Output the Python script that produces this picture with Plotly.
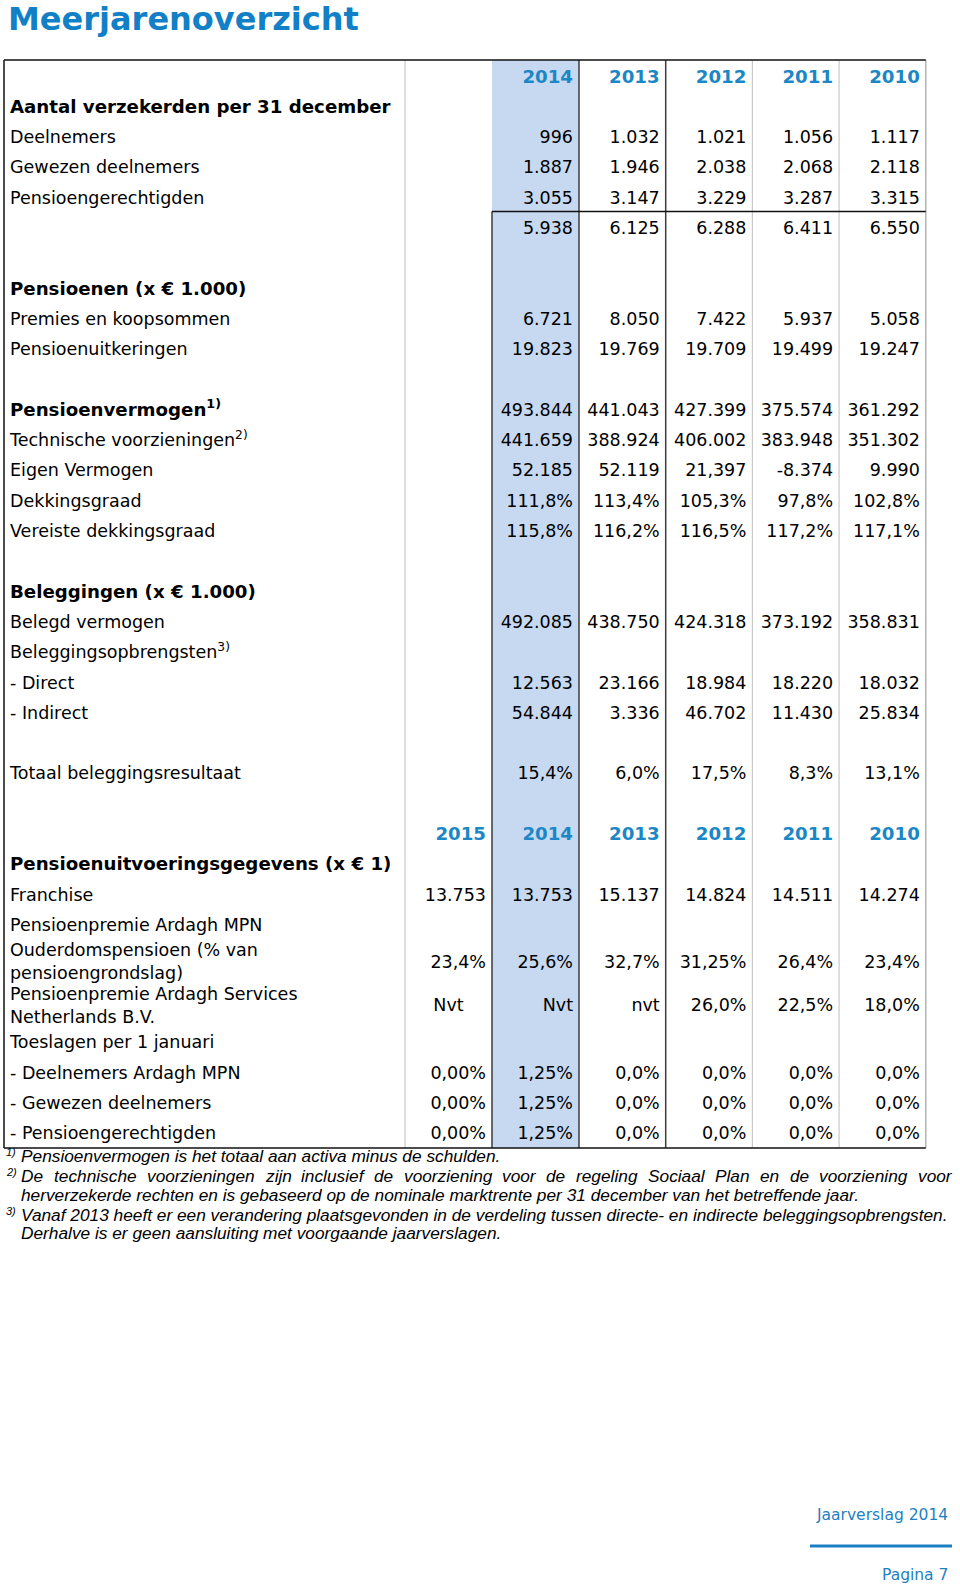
import plotly.graph_objects as go

# ---------------- data ----------------
years_a = ["2014", "2013", "2012", "2011", "2010"]
years_b = ["2015", "2014", "2013", "2012", "2011", "2010"]

labels_a = [
    "Aantal verzekerden per 31 december",
    "Deelnemers",
    "Gewezen deelnemers",
    "Pensioengerechtigden",
    "",
    "",
    "Pensioenen (x € 1.000)",
    "Premies en koopsommen",
    "Pensioenuitkeringen",
    "",
    "Pensioenvermogen<sup>1)</sup>",
    "Technische voorzieningen<sup>2)</sup>",
    "Eigen Vermogen",
    "Dekkingsgraad",
    "Vereiste dekkingsgraad",
    "",
    "Beleggingen (x € 1.000)",
    "Belegd vermogen",
    "Beleggingsopbrengsten<sup>3)</sup>",
    "- Direct",
    "- Indirect",
    "",
    "Totaal beleggingsresultaat",
    "",
]
bold_a = {0, 6, 10, 16}

values_a = [
    None,
    ["996", "1.032", "1.021", "1.056", "1.117"],
    ["1.887", "1.946", "2.038", "2.068", "2.118"],
    ["3.055", "3.147", "3.229", "3.287", "3.315"],
    ["5.938", "6.125", "6.288", "6.411", "6.550"],
    None,
    None,
    ["6.721", "8.050", "7.422", "5.937", "5.058"],
    ["19.823", "19.769", "19.709", "19.499", "19.247"],
    None,
    ["493.844", "441.043", "427.399", "375.574", "361.292"],
    ["441.659", "388.924", "406.002", "383.948", "351.302"],
    ["52.185", "52.119", "21,397", "-8.374", "9.990"],
    ["111,8%", "113,4%", "105,3%", "97,8%", "102,8%"],
    ["115,8%", "116,2%", "116,5%", "117,2%", "117,1%"],
    None,
    None,
    ["492.085", "438.750", "424.318", "373.192", "358.831"],
    None,
    ["12.563", "23.166", "18.984", "18.220", "18.032"],
    ["54.844", "3.336", "46.702", "11.430", "25.834"],
    None,
    ["15,4%", "6,0%", "17,5%", "8,3%", "13,1%"],
    None,
]

labels_b = [
    "Pensioenuitvoeringsgegevens (x € 1)",
    "Franchise",
    "Pensioenpremie Ardagh MPN",
    "Ouderdomspensioen (% van<br>pensioengrondslag)",
    "Pensioenpremie Ardagh Services<br>Netherlands B.V.",
    "Toeslagen per 1 januari",
    "- Deelnemers Ardagh MPN",
    "- Gewezen deelnemers",
    "- Pensioengerechtigden",
]
bold_b = {0}
values_b = [
    None,
    ["13.753", "13.753", "15.137", "14.824", "14.511", "14.274"],
    None,
    ["23,4%", "25,6%", "32,7%", "31,25%", "26,4%", "23,4%"],
    ["Nvt", "Nvt", "nvt", "26,0%", "22,5%", "18,0%"],
    None,
    ["0,00%", "1,25%", "0,0%", "0,0%", "0,0%", "0,0%"],
    ["0,00%", "1,25%", "0,0%", "0,0%", "0,0%", "0,0%"],
    ["0,00%", "1,25%", "0,0%", "0,0%", "0,0%", "0,0%"],
]

footnotes = [
    ("1)", ["Pensioenvermogen is het totaal aan activa minus de schulden."]),
    ("2)", ["De technische voorzieningen zijn inclusief de voorziening voor de regeling Sociaal Plan en de voorziening voor",
            "herverzekerde rechten en is gebaseerd op de nominale marktrente per 31 december van het betreffende jaar."]),
    ("3)", ["Vanaf 2013 heeft er een verandering plaatsgevonden in de verdeling tussen directe- en indirecte beleggingsopbrengsten.",
            "Derhalve is er geen aansluiting met voorgaande jaarverslagen."]),
]
justified_lines = {(1, 0)}  # footnote 2, first line is justified in the reference

# ---------------- layout constants ----------------
W, H = 960, 1588
FONT = "DejaVu Sans"
FS = 17.5
FS_BOLD = 18.2
BLUE_TXT = "#1b87c6"
TITLE_BLUE = "#1180c6"
CELL_BLUE = "#c6d9f1"
TABLE_TOP = 60
ROW_H = 30.3
ROW_H2 = 43.5
TEXT_DY = 3.0
LEFT = 4
LABEL_X = 10
COL_EDGES = [405, 492, 579, 665.7, 752.4, 839.1, 925.8]
PAD = 6

rows = []  # (kind, label, values, bold, height)
rows.append(("hdrA", None, years_a, True, ROW_H))
for i, lab in enumerate(labels_a):
    rows.append(("A", lab, values_a[i], i in bold_a, ROW_H))
rows.append(("hdrB", None, years_b, True, ROW_H))
for i, lab in enumerate(labels_b):
    rows.append(("B", lab, values_b[i], i in bold_b, ROW_H2 if "<br>" in lab else ROW_H))

y = TABLE_TOP
centers, tops = [], []
for r in rows:
    tops.append(y)
    centers.append(y + r[4] / 2 + TEXT_DY)
    y += r[4]
TABLE_BOTTOM = y + 1

fig = go.Figure()

lx, ly, lt = [], [], []
bx, by, bt = [], [], []
vx, vy, vt, vpos = [], [], [], []
hx, hy, ht = [], [], []
for r, c in zip(rows, centers):
    kind, lab, vals, bold, _ = r
    if kind in ("hdrA", "hdrB"):
        start = 1 if kind == "hdrA" else 0
        for j, v in enumerate(vals):
            hx.append(COL_EDGES[start + j + 1] - PAD)
            hy.append(c)
            ht.append("<b>%s</b>" % v)
        continue
    if lab:
        if bold:
            bx.append(LABEL_X); by.append(c); bt.append("<b>%s</b>" % lab)
        else:
            lx.append(LABEL_X); ly.append(c); lt.append(lab)
    if vals:
        start = 1 if kind == "A" else 0
        for j, v in enumerate(vals):
            col = start + j
            if kind == "B" and col == 0 and v == "Nvt":
                vx.append((COL_EDGES[col] + COL_EDGES[col + 1]) / 2)
                vpos.append("middle center")
            else:
                vx.append(COL_EDGES[col + 1] - PAD)
                vpos.append("middle left")
            vy.append(c)
            vt.append(v)

fig.add_shape(type="rect", x0=COL_EDGES[1], x1=COL_EDGES[2], y0=TABLE_TOP, y1=TABLE_BOTTOM,
              xref="x", yref="y", fillcolor=CELL_BLUE, line_width=0, layer="below")

LIGHT = "#c9c9c9"
DARK = "#3c3c3c"
for xe in [COL_EDGES[0], COL_EDGES[4], COL_EDGES[5]]:
    fig.add_shape(type="line", x0=xe, x1=xe, y0=TABLE_TOP, y1=TABLE_BOTTOM, xref="x", yref="y",
                  line=dict(color=LIGHT, width=1.2))
fig.add_shape(type="line", x0=COL_EDGES[6], x1=COL_EDGES[6], y0=TABLE_TOP, y1=TABLE_BOTTOM, xref="x", yref="y",
              line=dict(color="#a8a8a8", width=1.3))
for xe in [COL_EDGES[2], COL_EDGES[3]]:
    fig.add_shape(type="line", x0=xe, x1=xe, y0=TABLE_TOP, y1=TABLE_BOTTOM, xref="x", yref="y",
                  line=dict(color=DARK, width=1.5))
fig.add_shape(type="line", x0=COL_EDGES[1], x1=COL_EDGES[1], y0=tops[5], y1=TABLE_BOTTOM, xref="x", yref="y",
              line=dict(color=DARK, width=1.5))
for (x0, x1, y0, y1) in [(LEFT, COL_EDGES[6], TABLE_TOP, TABLE_TOP),
                         (LEFT, COL_EDGES[6], TABLE_BOTTOM, TABLE_BOTTOM),
                         (LEFT, LEFT, TABLE_TOP, TABLE_BOTTOM),
                         (COL_EDGES[1], COL_EDGES[6], tops[5], tops[5])]:
    fig.add_shape(type="line", x0=x0, x1=x1, y0=y0, y1=y1, xref="x", yref="y",
                  line=dict(color="#111111", width=1.5))

fig.add_trace(go.Scatter(x=lx, y=ly, text=lt, mode="text", textposition="middle right",
                         textfont=dict(family=FONT, size=FS, color="#000000"), hoverinfo="skip"))
fig.add_trace(go.Scatter(x=bx, y=by, text=bt, mode="text", textposition="middle right",
                         textfont=dict(family=FONT, size=FS_BOLD, color="#000000"), hoverinfo="skip"))
fig.add_trace(go.Scatter(x=vx, y=vy, text=vt, mode="text", textposition=vpos,
                         textfont=dict(family=FONT, size=FS, color="#000000"), hoverinfo="skip"))
fig.add_trace(go.Scatter(x=hx, y=hy, text=ht, mode="text", textposition="middle left",
                         textfont=dict(family=FONT, size=FS_BOLD, color=BLUE_TXT), hoverinfo="skip"))

fig.add_annotation(x=6, y=19, xref="x", yref="y", text="<b>Meerjarenoverzicht</b>", showarrow=False,
                   xanchor="left", yanchor="middle", font=dict(family=FONT, size=32, color=TITLE_BLUE))

# ---- footnotes (Arial-metric widths used only to justify one line) ----
FN_FONT = "Liberation Sans"
FN_FS = 17.3
FN_X0, FN_X1 = 19, 950
ARIAL_W = {c: 556 for c in "abdeghnopqu0123456789"}
ARIAL_W.update({"c": 500, "k": 500, "s": 500, "v": 500, "x": 500, "y": 500, "z": 500,
                "f": 278, "t": 278, "i": 222, "j": 222, "l": 222, "m": 833, "r": 333,
                "w": 722, " ": 278, "D": 722, "S": 667, "P": 667, "-": 333, ".": 278})


def text_w(s):
    return sum(ARIAL_W.get(ch, 556) for ch in s) / 1000.0 * FN_FS


fy = TABLE_BOTTOM + 8
for k, (mark, lines) in enumerate(footnotes):
    if k > 0:
        fy += 1.5
    fig.add_annotation(x=4, y=fy - 4, xref="x", yref="y", text="<i>%s</i>" % mark, showarrow=False,
                       xanchor="left", yanchor="middle", font=dict(family=FN_FONT, size=11, color="#000"))
    for li, ln in enumerate(lines):
        if (k, li) in justified_lines:
            words = ln.split(" ")
            widths = [text_w(w) for w in words]
            gap = (FN_X1 - FN_X0 - sum(widths)) / (len(words) - 1)
            xcur = FN_X0
            for w, ww in zip(words, widths):
                fig.add_annotation(x=xcur, y=fy, xref="x", yref="y", text="<i>%s</i>" % w, showarrow=False,
                                   xanchor="left", yanchor="middle", font=dict(family=FN_FONT, size=FN_FS, color="#000"))
                xcur += ww + gap
        else:
            fig.add_annotation(x=FN_X0, y=fy, xref="x", yref="y", text="<i>%s</i>" % ln, showarrow=False,
                               xanchor="left", yanchor="middle", font=dict(family=FN_FONT, size=FN_FS, color="#000"))
        fy += 18.6

fig.add_annotation(x=950, y=1515, xref="x", yref="y", text="Jaarverslag 2014", showarrow=False,
                   xanchor="right", yanchor="middle", font=dict(family=FONT, size=15.5, color="#1f7fbf"))
fig.add_shape(type="line", x0=810, x1=952, y0=1546, y1=1546, xref="x", yref="y",
              line=dict(color="#1a80c4", width=3))
fig.add_annotation(x=950, y=1575, xref="x", yref="y", text="Pagina 7", showarrow=False,
                   xanchor="right", yanchor="middle", font=dict(family=FONT, size=15.5, color="#1f7fbf"))

fig.update_layout(
    width=W, height=H, margin=dict(l=0, r=0, t=0, b=0),
    paper_bgcolor="white", plot_bgcolor="white", showlegend=False,
    xaxis=dict(range=[0, W], visible=False, fixedrange=True),
    yaxis=dict(range=[H, 0], visible=False, fixedrange=True),
)

fig.write_html("out.html", config={"displayModeBar": False},
               post_script="document.body.style.margin='0px';document.body.style.overflow='hidden';")
